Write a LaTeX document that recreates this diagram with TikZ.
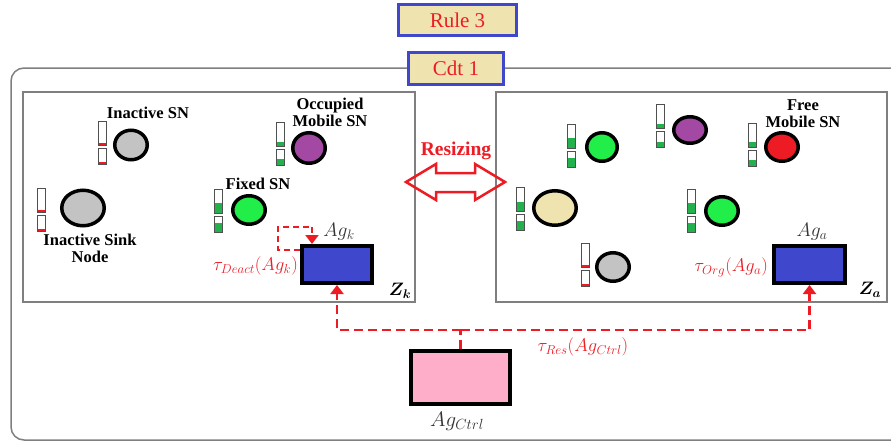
\RequirePackage{fix-cm}
\documentclass[tikz,border=0pt]{standalone}
\usepackage{fontspec}
\setmainfont{Liberation Serif}
\usepackage{amsmath}
\usepackage{bm}
\usetikzlibrary{shapes.geometric,arrows.meta,calc}
\definecolor{boxblue}{HTML}{3F48CC}
\definecolor{beige}{HTML}{EFE4B0}
\definecolor{pinkc}{HTML}{FFAEC9}
\definecolor{grayc}{HTML}{C3C3C3}
\definecolor{greenc}{HTML}{22EE4A}
\definecolor{purplec}{HTML}{A349A4}
\definecolor{redc}{HTML}{ED1C24}
\definecolor{battgreen}{HTML}{22B14C}
\definecolor{framegray}{HTML}{7F7F7F}
\definecolor{battline}{HTML}{505050}
\newcommand{\battpair}[5]{%
  \fill[#5] (#1,{#2+24-#3*24}) rectangle ({#1+8},{#2+24});
  \draw[battline,line width=0.8pt] (#1,#2) rectangle ({#1+8},{#2+24});
  \fill[#5] (#1,{#2+43-#4*16}) rectangle ({#1+8},{#2+43});
  \draw[battline,line width=0.8pt] (#1,{#2+27}) rectangle ({#1+8},{#2+43});
}
\begin{document}
\begin{tikzpicture}[x=1pt,y=-1pt,
  titlebox/.style={draw=boxblue,line width=3pt,fill=beige,text=redc,
    font=\fontsize{21}{24}\selectfont,inner sep=0pt},
  panel/.style={draw=framegray,line width=1.2pt},
  sn/.style={ellipse,draw=black,line width=3.5pt,inner sep=0pt},
  lbl/.style={font=\bfseries\fontsize{16.5}{17}\selectfont,align=center,inner sep=0pt},
  agbox/.style={draw=black,line width=4pt,inner sep=0pt},
  mlbl/.style={font=\fontsize{19.5}{22}\selectfont,text=black!80,inner sep=0pt},
  rlbl/.style={font=\fontsize{18.5}{21}\selectfont,text=redc,inner sep=0pt},
  resline/.style={draw=redc,line width=2.8pt,dash pattern=on 9pt off 5pt},
  loopline/.style={draw=redc,line width=2.4pt,dash pattern=on 6pt off 4pt},
  tip/.style={-{Triangle[width=13pt,length=9pt]}}
]
\useasboundingbox (0,0) rectangle (891,442);

% outer frame
\draw[framegray,line width=1.5pt,rounded corners=13pt] (11,68) rectangle (905,440);

% panels
\draw[panel] (23,92) rectangle (415,302);
\draw[panel] (496,92) rectangle (887,302);

% resizing arrow
\draw[redc,line width=2.5pt,line join=miter] (406,182) -- (436,164) -- (436,173) -- (475,173) -- (475,164)
  -- (505,182) -- (475,200) -- (475,192) -- (436,192) -- (436,200) -- cycle;
\node[font=\bfseries\fontsize{19.5}{22}\selectfont,text=redc,inner sep=0pt] (resz) at (456,151) {Resizing};

% title boxes
\node[titlebox,minimum width=118pt,minimum height=31pt] (rule) at (457.5,20) {Rule 3};
\node[titlebox,minimum width=95pt,minimum height=32pt] (cdt) at (456,68.5) {Cdt 1};

% ---- left panel ----
\battpair{98}{121}{0.08}{0.1}{redc}
\node[sn,fill=grayc,minimum width=32.5pt,minimum height=29.5pt] (inact) at (131,145) {};
\node[lbl] (inactl) at (148,113) {Inactive SN};

\battpair{37}{188}{0.08}{0.1}{redc}
\node[sn,fill=grayc,minimum width=42.5pt,minimum height=35.5pt] (sink) at (83,208) {};
\node[lbl] (sinkl) at (90,248) {Inactive Sink\\Node};

\battpair{276}{122}{0.18}{0.35}{battgreen}
\node[sn,fill=purplec,minimum width=32.5pt,minimum height=30.5pt] (occ) at (309,148) {};
\node[lbl] (occl) at (330,112.5) {Occupied\\Mobile SN};

\battpair{214}{189}{0.4}{0.55}{battgreen}
\node[sn,fill=greenc,minimum width=32.5pt,minimum height=28.5pt] (fixed) at (249,210) {};
\node[lbl] (fixedl) at (258,184) {Fixed SN};

\node[agbox,fill=boxblue,minimum width=70pt,minimum height=37pt] (agk) at (337,264.5) {};
\node[mlbl] (agkl) at (339,232) {$Ag_k$};
\node[rlbl,anchor=east] (deact) at (298,266) {$\tau_{Deact}(Ag_k)$};
\node[font=\fontsize{18}{21}\selectfont,inner sep=0pt] (zk) at (400,291) {$\bm{Z_k}$};
\coordinate (lp1) at (278,227);
\coordinate (lp2) at (312,227);
\draw[loopline] ($(agk.north west)+(0,6)$) -| (lp1) -- (lp2);
\draw[loopline,tip] (lp2) -- (lp2 |- agk.north);

% ---- right panel ----
\battpair{567}{124}{0.4}{0.55}{battgreen}
\node[sn,fill=greenc,minimum width=30.5pt,minimum height=28.5pt] (g1) at (602,147) {};

\battpair{656}{104}{0.18}{0.33}{battgreen}
\node[sn,fill=purplec,minimum width=32.5pt,minimum height=26.5pt] (purp) at (690,130) {};

\battpair{748}{123}{0.2}{0.35}{battgreen}
\node[sn,fill=redc,minimum width=32.5pt,minimum height=28.5pt] (redn) at (782,147) {};
\node[lbl] (freel) at (803,113.5) {Free\\Mobile SN};

\battpair{516}{187}{0.37}{0.55}{battgreen}
\node[sn,fill=beige,minimum width=42.5pt,minimum height=34.5pt] (beig) at (555,208) {};

\battpair{687}{189}{0.4}{0.55}{battgreen}
\node[sn,fill=greenc,minimum width=32.5pt,minimum height=28.5pt] (g2) at (722,211) {};

\battpair{581}{243}{0.08}{0.1}{redc}
\node[sn,fill=grayc,minimum width=32.5pt,minimum height=28.5pt] (grayn) at (613,267) {};

\node[agbox,fill=boxblue,minimum width=71pt,minimum height=37pt] (aga) at (809.5,264.5) {};
\node[mlbl] (agal) at (812,232) {$Ag_a$};
\node[rlbl,anchor=east] (org) at (768,267) {$\tau_{Org}(Ag_a)$};
\node[font=\fontsize{18}{21}\selectfont,inner sep=0pt] (za) at (870,290) {$\bm{Z_a}$};

% ---- controller ----
\node[agbox,fill=pinkc,minimum width=99pt,minimum height=53pt] (ctrl) at (460.5,377.5) {};
\node[font=\fontsize{21}{24}\selectfont,text=black!80,inner sep=0pt] (ctrll) at (457,421) {$Ag_{Ctrl}$};
\coordinate (j) at (460.5,330);
\draw[resline] (ctrl.north) -- (j);
\draw[resline,tip] (j) -| (agk.south);
\draw[resline,tip] (j) -| (aga.south);
\node[rlbl] (res) at (583,347) {$\tau_{Res}(Ag_{Ctrl})$};
\end{tikzpicture}
\end{document}
